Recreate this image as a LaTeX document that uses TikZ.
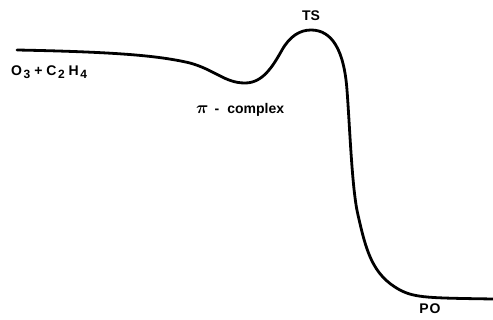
\documentclass[tikz,border=0pt]{standalone}
\usepackage{fontspec}
\setmainfont{Liberation Sans}
\newcommand{\lowsub}[1]{\kern1.5pt\raisebox{-3pt}{\fontsize{12}{13}\selectfont #1}}
\begin{document}
\begin{tikzpicture}[x=1pt,y=-1pt,
  lbl/.style={font=\fontsize{14}{16}\selectfont\bfseries, inner sep=0pt},
  curve/.style={line width=2.8pt, line cap=round, line join=round}]
\useasboundingbox (0,0) rectangle (493,320);
\draw[curve] (17,50) .. controls (120,52) and (160,56) .. (190,63)
  .. controls (215,70) and (225,83) .. (245,83)
  .. controls (262,83) and (272,68) .. (282,50)
  .. controls (290,36) and (300,30) .. (311,30)
  .. controls (332,30) and (344,50) .. (347,90)
  .. controls (350,130) and (352,190) .. (358,215)
  .. controls (366,250) and (372,275) .. (400,290)
  .. controls (415,298) and (430,298) .. (493,299);
\node[lbl, anchor=west] (r) at (11,72) {O\lowsub{3}\kern4pt+\kern4ptC\lowsub{2}\kern4ptH\lowsub{4}};
\node[lbl] (ts) at (311,16) {TS};
\node[lbl, anchor=west] (pc) at (196,110) {{\fontsize{19}{20}\selectfont\mathversion{bold}$\pi$}\kern6pt-\kern8pt complex};
\node[lbl] (po) at (430,309) {P\kern1ptO};
\end{tikzpicture}
\end{document}
